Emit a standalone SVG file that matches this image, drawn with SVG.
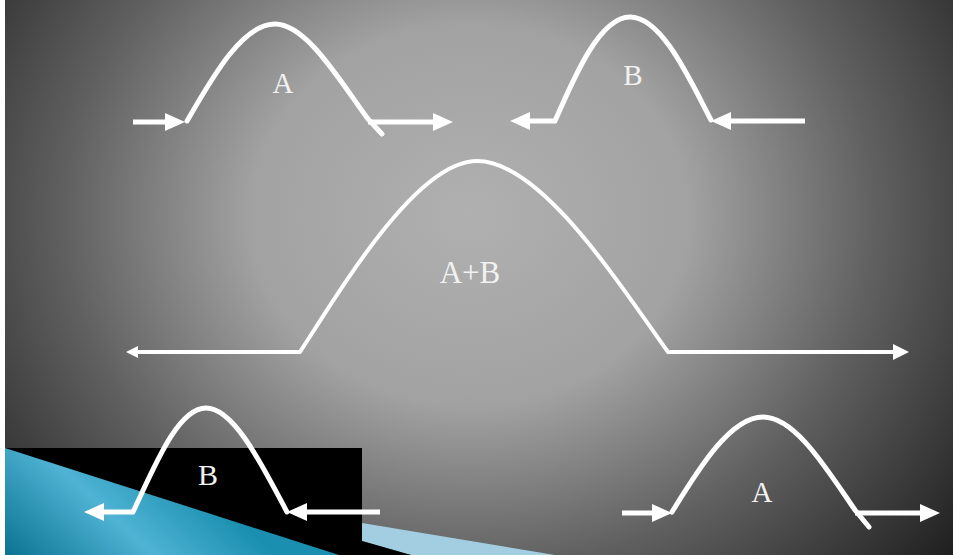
<svg xmlns="http://www.w3.org/2000/svg" width="953" height="555" viewBox="0 0 953 555">
<defs>
<radialGradient id="bg" gradientUnits="userSpaceOnUse" cx="470" cy="215" r="560" gradientTransform="translate(470 215) scale(1.15 1) translate(-470 -215)">
<stop offset="0" stop-color="#b0b0b0"/>
<stop offset="0.34" stop-color="#a2a2a2"/>
<stop offset="0.63" stop-color="#606060"/>
<stop offset="1" stop-color="#181818"/>
</radialGradient>
<linearGradient id="blue" gradientUnits="userSpaceOnUse" x1="5" y1="555" x2="130" y2="420">
<stop offset="0" stop-color="#0b7392"/>
<stop offset="0.55" stop-color="#4fb3d4"/>
<stop offset="1" stop-color="#1a8fb0"/>
</linearGradient>
<marker id="ah" viewBox="0 0 20 18" markerWidth="20" markerHeight="18" refX="10" refY="9" orient="auto" markerUnits="userSpaceOnUse">
<path d="M0,0 L20,9 L0,18 Z" fill="#fff"/>
</marker>
<marker id="ahs" viewBox="0 0 16 16" markerWidth="16" markerHeight="16" refX="8" refY="8" orient="auto" markerUnits="userSpaceOnUse">
<path d="M0,0 L16,8 L0,16 Z" fill="#fff"/>
</marker>
<marker id="ahx" viewBox="0 0 12 12" markerWidth="12" markerHeight="12" refX="6" refY="6" orient="auto" markerUnits="userSpaceOnUse">
<path d="M0,0 L12,6 L0,12 Z" fill="#fff"/>
</marker>
</defs>
<style>
.wave{fill:none;stroke:#fff;stroke-width:5;stroke-linecap:round;stroke-linejoin:round}
.big{stroke-width:4}
.arr{stroke:#fff;stroke-width:5;fill:none}
.arrb{stroke:#fff;stroke-width:4;fill:none}
.lbl{font-family:"Liberation Serif","Times New Roman",serif;fill:#f2f2f2;text-anchor:middle;font-size:29px}
</style>
<rect x="0" y="0" width="953" height="555" fill="url(#bg)"/>
<rect x="0" y="0" width="5" height="555" fill="#fff"/>
<g id="decor">
<polygon points="362,523 555,555 411,555 362,541" fill="#a3cde0"/>
<polygon points="5,448 362,448 362,541 411,555 5,555" fill="#000"/>
<polygon points="5,448 339,555 5,555" fill="url(#blue)"/>
</g>
<g id="connectors">
<line class="arr" x1="133" y1="122" x2="175" y2="122" marker-end="url(#ah)"/>
<line class="arr" x1="368" y1="122" x2="443" y2="122" marker-end="url(#ah)"/>
<line class="arr" x1="555" y1="121" x2="520" y2="121" marker-end="url(#ah)"/>
<line class="arr" x1="805" y1="121" x2="721" y2="121" marker-end="url(#ah)"/>
<line class="arrb" x1="300" y1="352" x2="132" y2="352" marker-end="url(#ahx)"/>
<line class="arrb" x1="668" y1="352" x2="901" y2="352" marker-end="url(#ahs)"/>
<line class="arr" x1="133" y1="512" x2="94" y2="512" marker-end="url(#ah)"/>
<line class="arr" x1="380" y1="512" x2="297" y2="512" marker-end="url(#ah)"/>
<line class="arr" x1="622" y1="513" x2="662" y2="513" marker-end="url(#ah)"/>
<line class="arr" x1="855" y1="513" x2="930" y2="513" marker-end="url(#ah)"/>
</g>
<g id="waveA1">
<path class="wave" d="M187,121 C212,78 242,24 275,24 C306,24 338,78 368,119 L382,134"/>
<text class="lbl" x="283" y="93">A</text>
</g>
<g id="waveB1">
<path class="wave" d="M555,121 C575,75 600,17 630,17 C662,17 690,80 711,120"/>
<text class="lbl" x="633" y="85">B</text>
</g>
<g id="waveAB">
<path class="wave big" d="M300,352 C345,282 418,161 477,161 C538,161 610,270 668,352"/>
<text class="lbl" x="470" y="283" style="font-size:31px">A+B</text>
</g>
<g id="waveB2">
<path class="wave" d="M133,512 C155,465 178,408 206,408 C234,408 262,465 287,512"/>
<text class="lbl" x="208" y="485" style="font-size:30px">B</text>
</g>
<g id="waveA2">
<path class="wave" d="M672,512 C698,470 730,417 763,417 C795,417 826,468 855,510 L869,527"/>
<text class="lbl" x="762" y="502">A</text>
</g>
</svg>
